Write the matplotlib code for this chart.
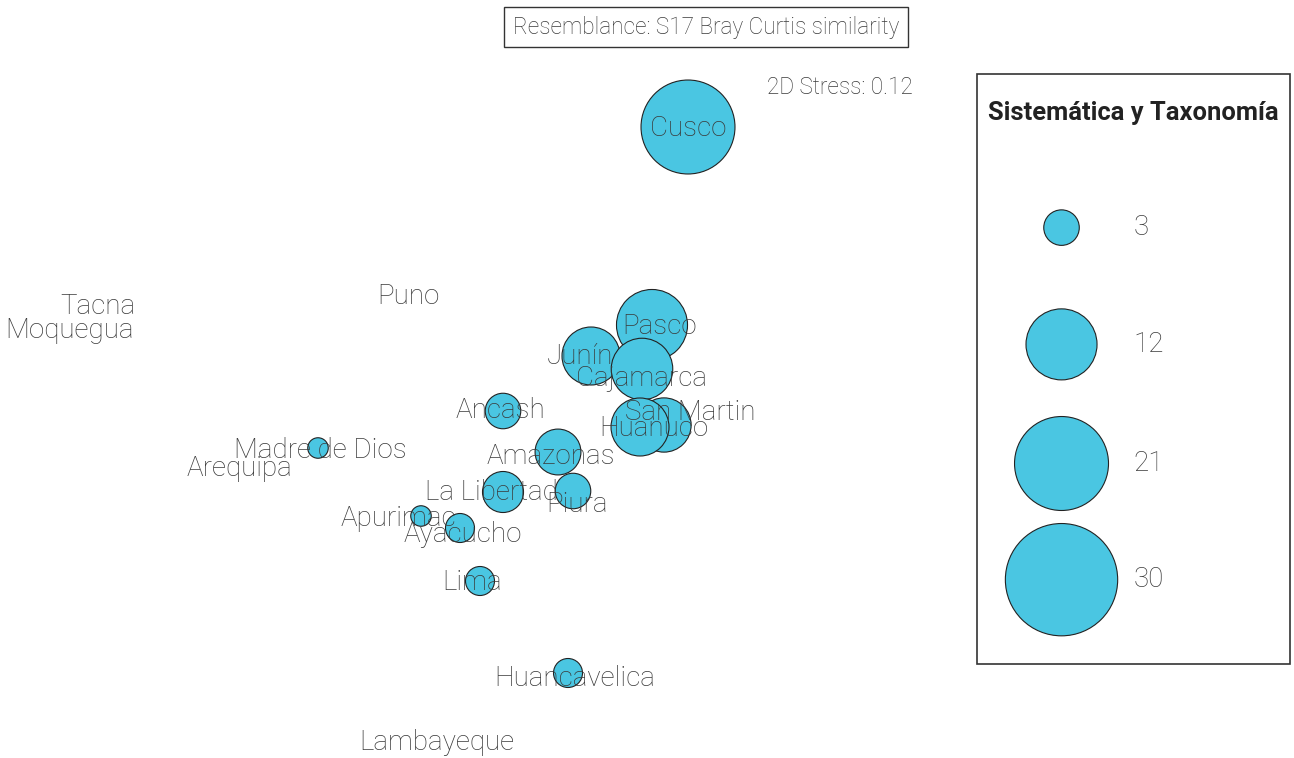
import matplotlib
matplotlib.use("Agg")
from matplotlib import pyplot as plt
from matplotlib.patches import Rectangle

plt.rcParams["font.family"] = ["Roboto", "DejaVu Sans"]

# MDS ordination (arbitrary units) and number of records per region
regions = [
    "Cusco", "Pasco", "Junín", "Cajamarca", "San Martin", "Huanuco",
    "Ancash", "Amazonas", "La Libertad", "Piura", "Apurimac", "Ayacucho",
    "Lima", "Huancavelica", "Madre de Dios", "Arequipa", "Tacna",
    "Moquegua", "Puno", "Lambayeque",
]
mds_x = [0.88, 0.52, -0.09, 0.42, 0.64, 0.40, -0.97, -0.42, -0.97, -0.27,
         -1.79, -1.40, -1.20, -0.32, -2.82, -2.40, -3.80, -3.90, -2.10, -1.80]
mds_y = [2.73, 0.75, 0.44, 0.31, -0.25, -0.27, -0.11, -0.52, -0.92, -0.91,
         -1.16, -1.28, -1.81, -2.73, -0.48, -0.60, 1.00, 0.80, 1.10, -3.30]
records = [21, 12, 8, 9, 7, 8, 3, 5, 4, 3, 1, 2, 2, 2, 1, 0, 0, 0, 0, 0]

# where each label is written (same units)
label_x = [0.88, 0.60, -0.20, 0.41, 0.90, 0.54, -1.00, -0.49, -1.09, -0.23,
           -2.02, -1.37, -1.28, -0.25, -2.80, -3.61, -5.02, -5.30, -1.92, -1.63]
label_y = [2.71, 0.74, 0.43, 0.22, -0.13, -0.28, -0.10, -0.57, -0.92, -1.05,
           -1.19, -1.34, -1.82, -2.78, -0.50, -0.69, 0.93, 0.70, 1.03, -3.43]

legend_values = [3, 12, 21, 30]

size_scale = 218
bubble_color = "#4AC6E2"
text_color = "#3a3a3a"

fig = plt.figure(figsize=(12.94, 7.58), dpi=100)
ax = fig.add_axes([0, 0, 1, 1])
ax.set_xlim(-6.0, 6.94)
ax.set_ylim(-3.58, 4.0)
ax.axis("off")

sizes = [size_scale * r for r in records]
ax.scatter(mds_x, mds_y, s=sizes, color=bubble_color, edgecolor="#222222",
           linewidth=0.8, zorder=2)
for name, lx, ly in zip(regions, label_x, label_y):
    ax.text(lx, ly, name, ha="center", va="center", fontsize=20,
            fontweight="light", color=text_color, zorder=3)

fig.text(0.5456, 0.964, "Resemblance: S17 Bray Curtis similarity",
         ha="center", va="center", fontsize=16.3, fontweight="light",
         color=text_color,
         bbox=dict(boxstyle="square,pad=0.38", facecolor="white",
                   edgecolor="#333333", linewidth=1))
fig.text(0.7056, 0.884, "2D Stress: 0.12", ha="right", va="center",
         fontsize=16.3, fontweight="light", color=text_color)

# size legend
lax = fig.add_axes([0.755, 0.124, 0.242, 0.778])
lax.set_xlim(0, 1)
lax.set_ylim(0, 1)
lax.axis("off")
lax.add_patch(Rectangle((0, 0), 1, 1, transform=lax.transAxes, fill=False,
                        edgecolor="#333333", linewidth=1.2, clip_on=False))
lax.text(0.5, 0.935, "Sistemática y Taxonomía", ha="center", va="center",
         fontsize=18.4, fontweight="bold", color="#222222")
leg_y = [0.74, 0.542, 0.34, 0.143]
lax.scatter([0.27] * len(legend_values), leg_y,
            s=[size_scale * v for v in legend_values], color=bubble_color,
            edgecolor="#222222", linewidth=0.8)
for v, yy in zip(legend_values, leg_y):
    lax.text(0.50, yy, str(v), ha="left", va="center", fontsize=20,
             fontweight="light", color=text_color)

fig.savefig("out.png", dpi=100)
